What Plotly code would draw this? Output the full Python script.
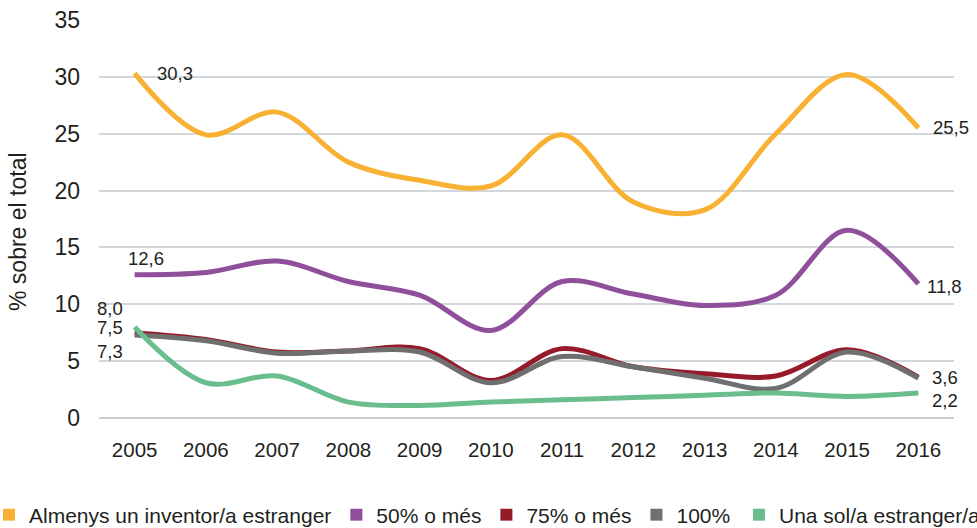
import plotly.graph_objects as go

years = ["2005", "2006", "2007", "2008", "2009", "2010", "2011", "2012", "2013", "2014", "2015", "2016"]

almenys_un = [30.3, 24.9, 26.9, 22.5, 20.9, 20.4, 24.9, 19.0, 18.3, 25.0, 30.2, 25.5]
cinquanta = [12.6, 12.8, 13.8, 12.0, 10.8, 7.7, 12.0, 10.9, 9.9, 10.8, 16.5, 11.8]
setanta_cinc = [7.5, 6.9, 5.8, 5.9, 6.1, 3.3, 6.1, 4.5, 3.9, 3.7, 6.0, 3.6]
cent = [7.3, 6.8, 5.7, 5.9, 5.8, 3.1, 5.4, 4.5, 3.5, 2.6, 5.8, 3.5]
una_sola = [8.0, 3.1, 3.7, 1.4, 1.1, 1.4, 1.6, 1.8, 2.0, 2.2, 1.9, 2.2]

series_names = ["Almenys un inventor/a estranger", "50% o més", "75% o més", "100%", "Una sol/a estranger/a"]
series_values = [almenys_un, cinquanta, setanta_cinc, cent, una_sola]
colors = ["#F8B133", "#8F4F9B", "#961B2A", "#706F6F", "#6ABD8C"]

y_ticks = [0, 5, 10, 15, 20, 25, 30, 35]

FONT = "Liberation Sans, Arial, Helvetica, sans-serif"
TXT = "#231F20"

W, H = 977, 528
PL, PR, PT, PB = 99, 954, 20, 418

fig = go.Figure()

for name, vals, col in zip(series_names, series_values, colors):
    fig.add_trace(go.Scatter(
        x=years, y=vals, mode="lines", name=name,
        line=dict(color=col, width=5, shape="spline", smoothing=1.0),
        showlegend=False, hoverinfo="x+y+name", cliponaxis=False,
    ))

# legend-only entries with square swatches
for i, (name, col) in enumerate(zip(series_names, colors)):
    fig.add_trace(go.Scatter(
        x=[None], y=[None], mode="markers", name=name,
        marker=dict(symbol="square", size=13, color=col),
        showlegend=True, legend="legend2" if i == 4 else "legend",
    ))

def fmt(v):
    return f"{v:.1f}".replace(".", ",")

# data labels: (series index, point index, xanchor, xshift, yshift)
label_spec = [
    (0, 0, "left", 20, 0),
    (1, 0, "center", 11, 16),
    (4, 0, "right", -10, 19),
    (2, 0, "right", -10, 5),
    (3, 0, "right", -10, -17),
    (0, 11, "left", 13, 1),
    (1, 11, "left", 7, -3),
    (2, 11, "left", 12, 0),
    (4, 11, "left", 12, -8),
]
annotations = []
for si, pi, xa, xs, ys in label_spec:
    annotations.append(dict(
        x=pi, y=series_values[si][pi], xref="x", yref="y",
        text=fmt(series_values[si][pi]), showarrow=False,
        xanchor=xa, yanchor="middle", xshift=xs, yshift=ys,
        font=dict(family=FONT, size=18.5, color=TXT),
    ))

annotations.append(dict(
    x=18 / W, y=(PB - 232) / (PB - PT), xref="paper", yref="paper",
    text="% sobre el total", textangle=-90, showarrow=False,
    xanchor="center", yanchor="middle",
    font=dict(family=FONT, size=23, color=TXT),
))

legend_common = dict(
    orientation="h", xanchor="left", yanchor="middle",
    font=dict(family=FONT, size=21, color=TXT),
    bgcolor="rgba(0,0,0,0)", borderwidth=0, itemsizing="constant",
    itemclick=False, itemdoubleclick=False,
)

fig.update_layout(
    width=W, height=H,
    margin=dict(l=0, r=0, t=PT, b=H - PB, autoexpand=False),
    paper_bgcolor="white", plot_bgcolor="white",
    font=dict(family=FONT, size=21, color=TXT),
    xaxis=dict(
        type="category", categoryorder="array", categoryarray=years,
        domain=[PL / W, PR / W], range=[-0.5, 11.5],
        showgrid=False, zeroline=False, showline=False, ticks="",
        tickfont=dict(family=FONT, size=20.5, color=TXT),
        ticklabelstandoff=17,
    ),
    yaxis=dict(
        range=[0, 35], tickvals=y_ticks, ticktext=[str(t) for t in y_ticks],
        showgrid=True, gridcolor="#D3D6DA", gridwidth=1.5,
        zeroline=True, zerolinecolor="#C9CCD0", zerolinewidth=1.5,
        showline=False, ticks="",
        tickfont=dict(family=FONT, size=23, color=TXT),
        ticklabelstandoff=18,
    ),
    legend=dict(x=-11 / W, y=(PB - 515) / (PB - PT), **legend_common),
    legend2=dict(x=739 / W, y=(PB - 515) / (PB - PT), **legend_common),
    annotations=annotations,
    showlegend=True,
)

fig.write_html(
    "out.html",
    config={"displayModeBar": False},
    post_script="document.body.style.margin='0';document.body.style.padding='0';",
)
